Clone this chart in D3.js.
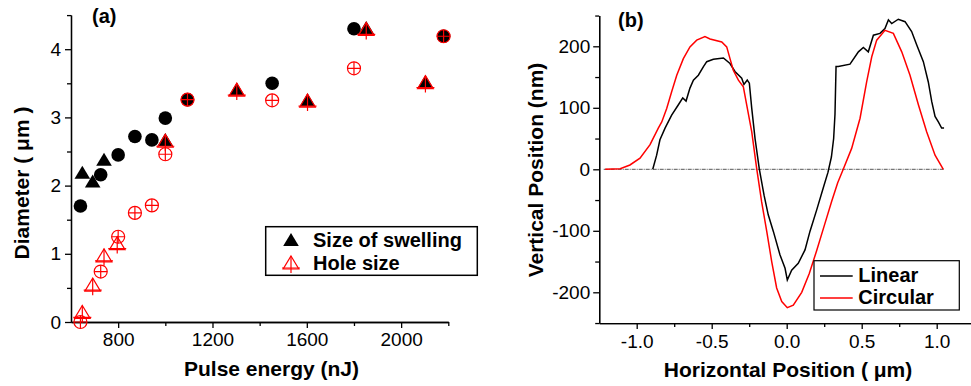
<!DOCTYPE html>
<html>
<head>
<meta charset="utf-8">
<script src="https://cdn.jsdelivr.net/npm/d3@7"></script>
<style>
  html, body { margin: 0; padding: 0; background: #fff; }
  svg { display: block; font-family: "Liberation Sans", Arial, sans-serif; }
  .axis path, .axis line { stroke: #000; stroke-width: 1.3; }
  .axis text { font-size: 19px; fill: #000; }
  .title { font-size: 21px; font-weight: bold; }
  .panel { font-size: 20px; font-weight: bold; }
  .leg { font-size: 20px; font-weight: bold; }
</style>
</head>
<body>
<div id="chart"></div>
<script>
// panel (a): pulse energy vs diameter
const circleEnergy = [640, 726, 800, 871, 943, 1000, 1094, 1453, 1800, 2180];
const swellCircle  = [1.70, 2.16, 2.45, 2.72, 2.67, 2.99, 3.26, 3.50, 4.30, 4.19];
const holeCircle   = [0.00, 0.74, 1.25, 1.60, 1.71, 2.46, 3.26, 3.25, 3.72, 4.19];
const triEnergy    = [648, 692, 740, 796, 1000, 1303, 1603, 1852, 2103];
const swellTri     = [2.19, 2.06, 2.38, null, 2.67, 3.41, 3.25, 4.31, 3.52];
const holeTri      = [0.14, 0.54, 0.97, 1.15, 2.65, 3.40, 3.24, 4.29, 3.51];
const energyTicks  = [800, 1200, 1600, 2000];
const diamTicks    = [0, 1, 2, 3, 4];

// panel (b): profiles
const linearX = [-0.893, -0.867, -0.845, -0.811, -0.767, -0.722, -0.693, -0.671, -0.645, -0.622, -0.589, -0.555,
  -0.533, -0.489, -0.422, -0.378, -0.345, -0.3, -0.285, -0.263, -0.249, -0.233, -0.211, -0.183, -0.151, -0.123,
  -0.089, -0.045, -0.011, 0.004, 0.033, 0.077, 0.122, 0.155, 0.2, 0.244, 0.275, 0.298, 0.313, 0.322, 0.329, 0.344,
  0.422, 0.478, 0.511, 0.544, 0.578, 0.622, 0.655, 0.678, 0.7, 0.744, 0.789, 0.833, 0.867, 0.911, 0.944, 0.967,
  0.989, 1.011, 1.033, 1.049];
const linearY = [0, 23, 48, 67, 88, 105, 116, 111, 132, 145, 153, 167,
  175, 179, 181, 172, 159, 148, 138, 145, 140, 99, 50, 1, -42, -74,
  -101, -139, -161, -180, -164, -153, -131, -101, -66, -30, -5, 20, 50, 90, 167, 167,
  171, 191, 198, 191, 218, 221, 229, 243, 237, 244, 240, 224, 202, 175, 142, 110,
  86, 77, 67, 67];
const circularX = [-1.21, -1.11, -1.045, -0.978, -0.911, -0.856, -0.833, -0.8, -0.767, -0.733, -0.689, -0.645,
  -0.6, -0.545, -0.511, -0.433, -0.4, -0.378, -0.356, -0.322, -0.289, -0.267, -0.233, -0.2, -0.167, -0.133,
  -0.1, -0.067, -0.033, 0.004, 0.044, 0.1, 0.15, 0.2, 0.25, 0.3, 0.34, 0.377, 0.433, 0.489, 0.533, 0.567, 0.6, 0.655,
  0.711, 0.767, 0.822, 0.878, 0.933, 0.989, 1.044];
const circularY = [0, 1, 7, 18, 40, 67, 77, 99, 126, 153, 180, 199,
  210, 216, 212, 207, 199, 180, 161, 145, 134, 105, 61, 1, -53, -101,
  -150, -193, -215, -225, -221, -200, -170, -132, -92, -52, -22, 0, 34, 83, 142, 183, 210, 226,
  221, 191, 153, 105, 61, 23, 0];
const posTicks  = [-1, -0.5, 0, 0.5, 1];
const vertTicks = [-200, -100, 0, 100, 200];

const width = 971, height = 386;
const svg = d3.select('#chart').append('svg')
  .attr('width', width).attr('height', height);

// ---------- panel (a) ----------
const xa = d3.scaleLinear().domain([600, 2200]).range([71, 448.3]);
const ya = d3.scaleLinear().domain([0, 4.5]).range([322, 15.1]);

const ga = svg.append('g');

ga.append('g').attr('class', 'axis')
  .attr('transform', 'translate(0,' + ya(0) + ')')
  .call(d3.axisBottom(xa).tickValues([1000, 1400, 1800, 2200]).tickSize(4).tickSizeOuter(0).tickFormat(''));
ga.append('g').attr('class', 'axis')
  .attr('transform', 'translate(0,' + ya(0) + ')')
  .call(d3.axisBottom(xa).tickValues(energyTicks).tickSize(6).tickSizeOuter(0).tickPadding(5).tickFormat(d3.format('d')));
ga.append('g').attr('class', 'axis')
  .attr('transform', 'translate(' + xa(600) + ',0)')
  .call(d3.axisLeft(ya).tickValues([0.5, 1.5, 2.5, 3.5, 4.5]).tickSize(4).tickSizeOuter(0).tickFormat(''));
ga.append('g').attr('class', 'axis')
  .attr('transform', 'translate(' + xa(600) + ',0)')
  .call(d3.axisLeft(ya).tickValues(diamTicks).tickSize(6).tickSizeOuter(0).tickPadding(4).tickFormat(d3.format('d')));

ga.append('text').attr('class', 'title')
  .attr('x', 271.5).attr('y', 376).attr('text-anchor', 'middle')
  .text('Pulse energy (nJ)');
ga.append('text').attr('class', 'title')
  .attr('transform', 'translate(29,183) rotate(-90)').attr('text-anchor', 'middle')
  .text('Diameter ( μm )');
ga.append('text').attr('class', 'panel').attr('x', 92).attr('y', 23).text('(a)');

const triPath = 'M0,-7L7.8,6L-7.8,6Z';
const triPlus = 'M0,-7V10M-9,5H9';
const circPlus = r => 'M0,' + (-r) + 'V' + r + 'M' + (-r) + ',0H' + r;

const circles = circleEnergy.map((e, i) => ({e: e, s: swellCircle[i], h: holeCircle[i]}));
const tris = triEnergy.map((e, i) => ({e: e, s: swellTri[i], h: holeTri[i]}));

// swelling (black, filled)
ga.selectAll('.sc').data(circles.filter(d => d.s != null)).enter()
  .append('circle').attr('class', 'sc')
  .attr('cx', d => xa(d.e)).attr('cy', d => ya(d.s)).attr('r', 6.8)
  .attr('fill', '#000');
ga.selectAll('.st').data(tris.filter(d => d.s != null)).enter()
  .append('path').attr('class', 'st')
  .attr('transform', d => 'translate(' + xa(d.e) + ',' + ya(d.s) + ')')
  .attr('d', triPath).attr('fill', '#000');

// hole size (red, open with cross)
const hc = ga.selectAll('.hc').data(circles.filter(d => d.h != null)).enter()
  .append('g').attr('class', 'hc')
  .attr('transform', d => 'translate(' + xa(d.e) + ',' + ya(d.h) + ')');
hc.append('circle').attr('r', 6.5).attr('fill', 'none').attr('stroke', '#f00').attr('stroke-width', 1.2);
hc.append('path').attr('d', circPlus(6.5)).attr('stroke', '#f00').attr('stroke-width', 1.2);

const ht = ga.selectAll('.ht').data(tris.filter(d => d.h != null)).enter()
  .append('g').attr('class', 'ht')
  .attr('transform', d => 'translate(' + xa(d.e) + ',' + ya(d.h) + ')');
ht.append('path').attr('d', triPath).attr('fill', 'none').attr('stroke', '#f00').attr('stroke-width', 1.2);
ht.append('path').attr('d', triPlus).attr('fill', 'none').attr('stroke', '#f00').attr('stroke-width', 1.2);

// legend (a)
const la = ga.append('g');
la.append('rect').attr('x', 265.7).attr('y', 226.7).attr('width', 211.6).attr('height', 48.6)
  .attr('fill', '#fff').attr('stroke', '#000').attr('stroke-width', 1.5);
la.append('path').attr('transform', 'translate(291,240)').attr('d', triPath).attr('fill', '#000');
const lt = la.append('g').attr('transform', 'translate(291,263)');
lt.append('path').attr('d', triPath).attr('fill', 'none').attr('stroke', '#f00').attr('stroke-width', 1.2);
lt.append('path').attr('d', triPlus).attr('fill', 'none').attr('stroke', '#f00').attr('stroke-width', 1.2);
la.append('text').attr('class', 'leg').attr('x', 313).attr('y', 247).text('Size of swelling');
la.append('text').attr('class', 'leg').attr('x', 313).attr('y', 270).text('Hole size');

// ---------- panel (b) ----------
const xb = d3.scaleLinear().domain([-1.25, 1.25]).range([599.2, 974.2]);
const yb = d3.scaleLinear().domain([-250, 250]).range([323.05, 15.55]);

const gb = svg.append('g');

gb.append('g').attr('class', 'axis')
  .attr('transform', 'translate(0,' + yb(-250) + ')')
  .call(d3.axisBottom(xb).tickValues([-0.75, -0.25, 0.25, 0.75, 1.25]).tickSize(4).tickSizeOuter(0).tickFormat(''));
gb.append('g').attr('class', 'axis')
  .attr('transform', 'translate(0,' + yb(-250) + ')')
  .call(d3.axisBottom(xb).tickValues(posTicks).tickSize(6).tickSizeOuter(0).tickPadding(5).tickFormat(d => d.toFixed(1)));
gb.append('g').attr('class', 'axis')
  .attr('transform', 'translate(' + xb(-1.25) + ',0)')
  .call(d3.axisLeft(yb).tickValues([-250, -150, -50, 50, 150, 250]).tickSize(4).tickSizeOuter(0).tickFormat(''));
gb.append('g').attr('class', 'axis')
  .attr('transform', 'translate(' + xb(-1.25) + ',0)')
  .call(d3.axisLeft(yb).tickValues(vertTicks).tickSize(6).tickSizeOuter(0).tickPadding(3).tickFormat(d => String(d)));

gb.append('text').attr('class', 'title')
  .attr('x', 788).attr('y', 377).attr('text-anchor', 'middle')
  .text('Horizontal Position ( μm)');
gb.append('text').attr('class', 'title')
  .attr('transform', 'translate(543,170) rotate(-90)').attr('text-anchor', 'middle')
  .text('Vertical Position (nm)');
gb.append('text').attr('class', 'panel').attr('x', 618).attr('y', 27).text('(b)');

// zero line
gb.append('line')
  .attr('x1', xb(-1.22)).attr('x2', xb(1.05)).attr('y1', yb(0)).attr('y2', yb(0))
  .attr('stroke', '#555').attr('stroke-width', 1).attr('stroke-dasharray', '4,1,1,1');

const line = d3.line().x(d => xb(d[0])).y(d => yb(d[1]));
gb.append('path').datum(linearX.map((x, i) => [x, linearY[i]]))
  .attr('d', line).attr('fill', 'none').attr('stroke', '#000').attr('stroke-width', 1.5);
gb.append('path').datum(circularX.map((x, i) => [x, circularY[i]]))
  .attr('d', line).attr('fill', 'none').attr('stroke', '#f00').attr('stroke-width', 1.5);

// legend (b)
const lb = gb.append('g');
lb.append('rect').attr('x', 814).attr('y', 260.7).attr('width', 145.3).attr('height', 49.3)
  .attr('fill', '#fff').attr('stroke', '#000').attr('stroke-width', 1.2);
lb.append('line').attr('x1', 820).attr('x2', 852.7).attr('y1', 276).attr('y2', 276)
  .attr('stroke', '#000').attr('stroke-width', 1.5);
lb.append('line').attr('x1', 820).attr('x2', 852.7).attr('y1', 298).attr('y2', 298)
  .attr('stroke', '#f00').attr('stroke-width', 1.5);
lb.append('text').attr('class', 'leg').attr('x', 858.3).attr('y', 282).text('Linear');
lb.append('text').attr('class', 'leg').attr('x', 858.3).attr('y', 304).text('Circular');
</script>
</body>
</html>
